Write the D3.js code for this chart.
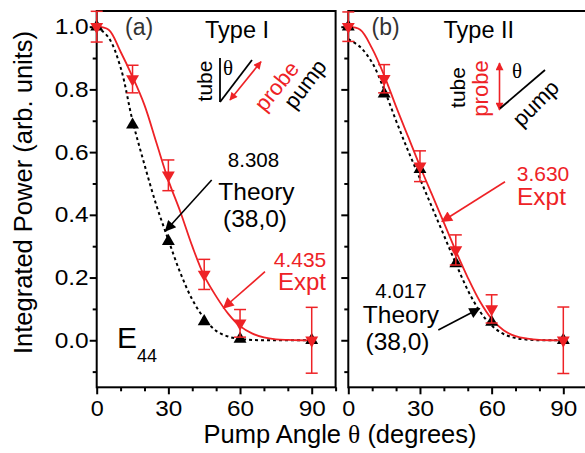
<!DOCTYPE html>
<html><head><meta charset="utf-8">
<script src="https://cdn.jsdelivr.net/npm/d3@7"></script>
<style>
html,body{margin:0;padding:0;background:#fff;}
svg{display:block;font-family:"Liberation Sans",Arial,Helvetica,sans-serif;}
</style></head><body>
<svg id="chart" width="585" height="453"></svg>
<script>
// ---- data ----
const angles = [0, 15, 30, 45, 60, 90];
const exptA = [1.0, 0.833, 0.526, 0.21, 0.054, 0.0];
const exptAErr = [0.049, 0.044, 0.049, 0.048, 0.044, 0.105];
const theoryA = [1.0, 0.687, 0.316, 0.06, 0.004, 0.0];
const exptB = [1.0, 0.834, 0.555, 0.288, 0.100, 0.0];
const exptBErr = [0.047, 0.045, 0.049, 0.048, 0.045, 0.106];
const theoryB = [1.0, 0.786, 0.545, 0.245, 0.058, 0.0];

const fitAngles = [0,5,10,15,20,25,30,35,40,45,50,55,60,65,70,75,80,85,90];
const fitExptA   = [1.0,0.99,0.92,0.84,0.75,0.63,0.51,0.41,0.30,0.205,0.14,0.085,0.045,0.022,0.009,0.003,0.001,0.0,0.0];
const fitTheoryA = [1.0,0.965,0.87,0.70,0.56,0.43,0.32,0.215,0.13,0.07,0.03,0.012,0.004,0.001,0.0,0.0,0.0,0.0,0.0];
const fitExptB   = [1.0,0.99,0.93,0.845,0.745,0.65,0.555,0.465,0.375,0.285,0.2,0.125,0.068,0.032,0.013,0.005,0.001,0.0,0.0];
const fitTheoryB = [0.96,0.935,0.885,0.80,0.70,0.605,0.515,0.425,0.335,0.245,0.16,0.093,0.047,0.02,0.007,0.002,0.0,0.0,0.0];

const xMajor = [0, 30, 60, 90];
const xMinor = [10, 20, 40, 50, 70, 80, 100];
const yMajor = [0.0, 0.2, 0.4, 0.6, 0.8, 1.0];
const yMinor = [-0.1, 0.1, 0.3, 0.5, 0.7, 0.9];

// ---- layout ----
const RED = "#ee2226";
const svg = d3.select("#chart");
const yTop = 11, yBot = 387.3;
const y = d3.scaleLinear().domain([-0.15, 1.05]).range([yBot, yTop]);

const defs = svg.append("defs");
function mk(id, color, w, h) {
  defs.append("marker").attr("id", id).attr("viewBox", "0 0 10 10")
    .attr("refX", 9).attr("refY", 5).attr("markerUnits", "userSpaceOnUse")
    .attr("markerWidth", w).attr("markerHeight", h).attr("orient", "auto-start-reverse")
    .append("path").attr("d", "M0,0 L10,5 L0,10 z").attr("fill", color);
}
mk("ahBlack", "#000", 14, 11);
mk("ahRed", RED, 14, 11);
mk("ahRedS", RED, 9, 8);

const panels = [
  {x0: 96.7, x1: 335.6, expt: exptA, err: exptAErr, theory: theoryA, fitE: fitExptA, fitT: fitTheoryA, labels: true},
  {x0: 348.3, x1: 587.2, expt: exptB, err: exptBErr, theory: theoryB, fitE: fitExptB, fitT: fitTheoryB, labels: false}
];

panels.forEach(p => {
  const x = d3.scaleLinear().domain([0, 100]).range([p.x0, p.x1]);
  p.x = x;
  const g = svg.append("g");

  // axes
  const xa = g.append("g").attr("transform", `translate(0,${yBot})`)
    .call(d3.axisBottom(x).tickValues(xMajor).tickSize(7).tickPadding(6).tickSizeOuter(0).tickFormat(d3.format("d")));
  const xm = g.append("g").attr("transform", `translate(0,${yBot})`)
    .call(d3.axisBottom(x).tickValues(xMinor).tickSize(4).tickSizeOuter(0).tickFormat(""));
  const ya = g.append("g").attr("transform", `translate(${p.x0},0)`)
    .call(d3.axisLeft(y).tickValues(yMajor).tickSize(7).tickPadding(1).tickSizeOuter(0)
      .tickFormat(p.labels ? d3.format(".1f") : ""));
  const ym = g.append("g").attr("transform", `translate(${p.x0},0)`)
    .call(d3.axisLeft(y).tickValues(yMinor).tickSize(4).tickSizeOuter(0).tickFormat(""));
  [xa, xm, ya, ym].forEach(a => {
    a.select(".domain").remove();
    a.selectAll("line").attr("stroke", "#000").attr("stroke-width", 2);
    a.selectAll("text").attr("font-size", 21.5).attr("fill", "#000")
      .attr("font-family", '"Liberation Sans",Arial,sans-serif');
  });
  xa.selectAll("text").attr("lengthAdjust", "spacingAndGlyphs")
    .attr("textLength", d => (String(d).length === 1 ? 13 : 27));
  if (p.labels) {
    ya.selectAll("text").attr("lengthAdjust", "spacingAndGlyphs").attr("textLength", 34);
  }

  // frame
  g.append("rect").attr("x", p.x0).attr("y", yTop).attr("width", p.x1 - p.x0).attr("height", yBot - yTop)
    .attr("fill", "none").attr("stroke", "#000").attr("stroke-width", 2);

  const line = d3.line().x((d, i) => x(fitAngles[i])).y(d => y(d)).curve(d3.curveCatmullRom);
  // theory fit (dotted)
  g.append("path").datum(p.fitT).attr("d", line).attr("fill", "none")
    .attr("stroke", "#000").attr("stroke-width", 2).attr("stroke-dasharray", "3,3");
  // expt fit (solid red)
  g.append("path").datum(p.fitE).attr("d", line).attr("fill", "none")
    .attr("stroke", RED).attr("stroke-width", 1.8);

  // theory markers (black up triangles)
  const tri = d3.symbol().type(d3.symbolTriangle).size(72);
  g.selectAll(".th").data(p.theory).enter().append("path")
    .attr("d", tri).attr("fill", "#000")
    .attr("transform", (d, i) => `translate(${x(angles[i])},${y(d)})`);

  // error bars
  const eb = g.selectAll(".eb").data(p.expt).enter().append("g");
  eb.append("line").attr("x1", (d, i) => x(angles[i])).attr("x2", (d, i) => x(angles[i]))
    .attr("y1", (d, i) => y(d + p.err[i])).attr("y2", (d, i) => y(d - p.err[i]))
    .attr("stroke", RED).attr("stroke-width", 1.5);
  [1, -1].forEach(s => {
    eb.append("line").attr("x1", (d, i) => x(angles[i]) - 6).attr("x2", (d, i) => x(angles[i]) + 6)
      .attr("y1", (d, i) => y(d + s * p.err[i])).attr("y2", (d, i) => y(d + s * p.err[i]))
      .attr("stroke", RED).attr("stroke-width", 1.5);
  });
  // expt markers (red down triangles)
  g.selectAll(".ex").data(p.expt).enter().append("path")
    .attr("d", tri).attr("fill", RED)
    .attr("transform", (d, i) => `translate(${x(angles[i])},${y(d)}) rotate(180)`);
});

// ---- text helpers ----
function txt(t, x, yy, size, color, anchor) {
  return svg.append("text").attr("x", x).attr("y", yy).attr("font-size", size)
    .attr("fill", color || "#000").attr("text-anchor", anchor || "start").text(t);
}
function rtxt(t, cx, cy, ang, size, color) {
  return svg.append("text").attr("transform", `translate(${cx},${cy}) rotate(${ang})`)
    .attr("text-anchor", "middle").attr("dy", "0.35em").attr("font-size", size)
    .attr("fill", color).text(t);
}
function arrow(x1, y1, x2, y2, color, mid, both) {
  const l = svg.append("line").attr("x1", x1).attr("y1", y1).attr("x2", x2).attr("y2", y2)
    .attr("stroke", color).attr("stroke-width", 1.6).attr("marker-end", `url(#${mid})`);
  if (both) l.attr("marker-start", `url(#${mid})`);
}

// axis titles
svg.append("text").attr("transform", "translate(31.5,192.5) rotate(-90)")
  .attr("text-anchor", "middle").attr("font-size", 25.5).text("Integrated Power (arb. units)");
const xt = svg.append("text").attr("x", 340).attr("y", 443.3).attr("text-anchor", "middle").attr("font-size", 25.5);
xt.append("tspan").text("Pump Angle ");
xt.append("tspan").attr("font-family", '"Liberation Serif","Times New Roman",serif').text("θ");
xt.append("tspan").text(" (degrees)");

// panel (a)
txt("(a)", 125, 35, 23, "#333");
txt("Type I", 205, 37.5, 23.5, "#000");
svg.append("text").attr("transform", "translate(212,81) rotate(-90)").attr("text-anchor", "middle")
  .attr("font-size", 21).text("tube");
svg.append("line").attr("x1", 220).attr("y1", 58).attr("x2", 220).attr("y2", 102).attr("stroke", "#000").attr("stroke-width", 1.8);
svg.append("line").attr("x1", 220).attr("y1", 102).attr("x2", 252).attr("y2", 60).attr("stroke", "#000").attr("stroke-width", 1.8);
svg.append("text").attr("x", 223).attr("y", 75).attr("font-size", 21)
  .attr("font-family", '"Liberation Serif","Times New Roman",serif').text("θ");
arrow(230, 100, 261, 61.7, RED, "ahRedS", true);
rtxt("probe", 276.5, 86, -51, 22, RED);
rtxt("pump", 305, 84, -53, 22, "#000");

txt("8.308", 253.5, 166.5, 20.5, "#000", "middle");
txt("Theory", 256.5, 200, 24.5, "#000", "middle");
txt("(38,0)", 255, 226.5, 24.5, "#000", "middle");
arrow(211.7, 180, 165.5, 231, "#000", "ahBlack");
txt("4.435", 300, 266.5, 21, RED, "middle");
txt("Expt", 302, 290, 24, RED, "middle");
arrow(265, 271.7, 223.5, 308, RED, "ahRed");
const e44 = svg.append("text").attr("x", 117).attr("y", 348.3).attr("font-size", 30);
e44.append("tspan").text("E");
e44.append("tspan").attr("font-size", 18).attr("dy", 14).text("44");

// panel (b)
txt("(b)", 371.5, 35, 23, "#333");
txt("Type II", 443.5, 37.5, 23.5, "#000");
svg.append("text").attr("transform", "translate(465,87.5) rotate(-90)").attr("text-anchor", "middle")
  .attr("font-size", 21).text("tube");
svg.append("text").attr("transform", "translate(488,88.5) rotate(-90)").attr("text-anchor", "middle")
  .attr("font-size", 22).attr("fill", RED).text("probe");
arrow(499.5, 110, 499.5, 63, RED, "ahRedS", true);
svg.append("line").attr("x1", 500).attr("y1", 108.5).attr("x2", 545).attr("y2", 70).attr("stroke", "#000").attr("stroke-width", 1.8);
svg.append("text").attr("x", 512).attr("y", 78).attr("font-size", 21)
  .attr("font-family", '"Liberation Serif","Times New Roman",serif').text("θ");
rtxt("pump", 535.5, 103, -45, 22, "#000");

txt("3.630", 543, 180.5, 21, RED, "middle");
txt("Expt", 541.5, 205, 24.5, RED, "middle");
arrow(505, 181.7, 442, 221.5, RED, "ahRed");
txt("4.017", 401, 298.3, 20.5, "#000", "middle");
txt("Theory", 401, 323.3, 24.5, "#000", "middle");
txt("(38,0)", 397.5, 350, 24.5, "#000", "middle");
arrow(438.3, 330, 479.5, 308.5, "#000", "ahBlack");
</script>
</body></html>
